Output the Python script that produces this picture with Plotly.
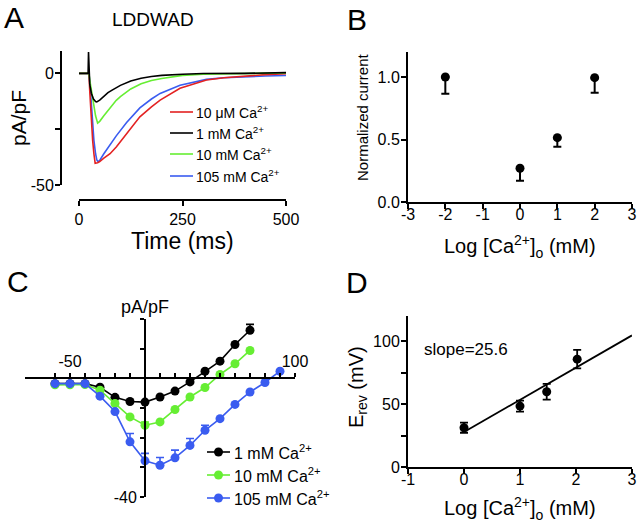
import plotly.graph_objects as go

W, H = 640, 526
FONT = "Arial, Liberation Sans, sans-serif"
RED, BLACK, GREEN, BLUE = "#e32222", "#000000", "#66ee33", "#3a5cf0"

# ---------------- Panel A data (current traces) ----------------
red_t = [0, 24, 26, 28, 30, 33, 36, 39, 45, 50, 60, 75, 90, 115, 147, 175, 196, 244, 308, 350, 400, 450, 500]
red_v = [0, 0, -8, -16, -22, -30, -36, -40.3, -40, -39.5, -38, -36, -33, -27, -19.5, -15, -12, -6.7, -3, -2, -1.2, -0.6, -0.2]
blue_t = [0, 24, 27, 30, 33, 36, 40, 43, 46, 50, 60, 75, 90, 115, 147, 175, 196, 244, 308, 350, 400, 450, 500]
blue_v = [0, 0, -6, -14, -23, -30, -36, -38.8, -39.5, -39, -36, -32, -28, -22, -15.5, -11.5, -9, -5.3, -2.7, -2, -1.5, -1.2, -1.0]
green_t = [0, 24, 26, 30, 35, 40, 45, 50, 60, 70, 80, 90, 100, 125, 150, 175, 200, 250, 300, 350, 400, 450, 500]
green_v = [0, 0, -3, -8, -14, -19, -22.3, -21.5, -19, -16.7, -14.3, -12.1, -10.4, -7, -4.7, -3.2, -2.3, -0.9, -0.4, -0.2, 0, 0.1, 0.2]
black_t = [0, 22, 23, 24, 26, 30, 35, 40, 43, 50, 60, 70, 80, 100, 125, 150, 175, 200, 250, 300, 400, 500]
black_v = [0, 0, 9.5, 2, -5, -9, -11.5, -12.6, -12.8, -12, -10.3, -8.6, -7.5, -5.4, -3.4, -2.2, -1.4, -0.9, -0.4, -0.1, 0, 0.3]
a_legend = ["10 \u03bcM Ca<sup>2+</sup>", "1 mM Ca<sup>2+</sup>", "10 mM Ca<sup>2+</sup>", "105 mM Ca<sup>2+</sup>"]

# ---------------- Panel B data ----------------
b_x = [-2, 0, 1, 2]
b_y = [1.0, 0.27, 0.515, 0.995]
b_err = [0.133, 0.10, 0.072, 0.12]

# ---------------- Panel C data (I-V) ----------------
c_v = [-60, -50, -40, -30, -20, -10, 0, 10, 20, 30, 40, 50, 60, 70]
c_v_blue = [-60, -50, -40, -30, -20, -10, 0, 10, 20, 30, 40, 50, 60, 70, 80, 90]
c_black = [-1.8, -1.8, -1.8, -3.0, -6.4, -7.8, -8.0, -6.3, -4.3, -1.2, 2.4, 5.8, 11.4, 16.2]
c_black_err = [0, 0, 0, 0, 0, 0, 0, 0, 0, 0, 0, 0, 0, 2.0]
c_green = [-2.2, -2.2, -2.1, -4.0, -8.5, -13.0, -15.8, -14.7, -10.5, -6.3, -3.1, 1.3, 4.9, 9.4]
c_green_err = [0, 0, 0, 0, 0, 0, 1.1, 0, 0, 0, 0, 0, 0, 0]
c_blue = [-1.8, -1.8, -1.8, -6.0, -11.2, -21.4, -27.8, -29.3, -26.8, -22.6, -17.5, -13.6, -8.8, -4.6, -1.4, 2.4]
c_blue_err = [0, 0, 0, 0, 0, 2.8, 2.5, 2.6, 2.6, 2.3, 1.7, 0, 0, 0, 0, 0]
c_legend = ["1 mM Ca<sup>2+</sup>", "10 mM Ca<sup>2+</sup>", "105 mM Ca<sup>2+</sup>"]

# ---------------- Panel D data ----------------
d_x = [0, 1, 1.477, 2.021]
d_y = [31.2, 48.4, 59.8, 85.7]
d_err = [4.0, 4.4, 6.3, 7.3]
fit_x = [0, 3]
fit_y = [27.8, 104.6]


def px(x):
    return x / W


def py(y):
    return 1 - y / H


fig = go.Figure()

# Panel A traces
for t, v, c in [(blue_t, blue_v, BLUE), (red_t, red_v, RED), (green_t, green_v, GREEN), (black_t, black_v, BLACK)]:
    fig.add_trace(go.Scatter(x=t, y=v, mode="lines", line=dict(color=c, width=1.6),
                             xaxis="x", yaxis="y", showlegend=False, hoverinfo="skip"))

# Panel B
fig.add_trace(go.Scatter(x=b_x, y=b_y, mode="markers", marker=dict(color="black", size=9),
                         error_y=dict(type="data", symmetric=False, array=[0] * len(b_err), arrayminus=b_err,
                                      width=4, thickness=2, color="black"),
                         xaxis="x2", yaxis="y2", showlegend=False, cliponaxis=False))

# Panel C
for xs, ys, es, c in [(c_v, c_black, c_black_err, BLACK), (c_v, c_green, c_green_err, GREEN),
                      (c_v_blue, c_blue, c_blue_err, BLUE)]:
    fig.add_trace(go.Scatter(x=xs, y=ys, mode="lines+markers", line=dict(color=c, width=1.6),
                             marker=dict(color=c, size=9),
                             error_y=dict(type="data", symmetric=False, array=es, arrayminus=[0] * len(es),
                                          width=4, thickness=1.6, color=c),
                             xaxis="x3", yaxis="y3", showlegend=False, cliponaxis=False))

# Panel D
fig.add_trace(go.Scatter(x=fit_x, y=fit_y, mode="lines", line=dict(color="black", width=1.8),
                         xaxis="x4", yaxis="y4", showlegend=False))
fig.add_trace(go.Scatter(x=d_x, y=d_y, mode="markers", marker=dict(color="black", size=9),
                         error_y=dict(type="data", array=d_err, width=4, thickness=1.8, color="black"),
                         xaxis="x4", yaxis="y4", showlegend=False, cliponaxis=False))

tickfont = dict(family=FONT, size=16, color="black")
common = dict(showgrid=False, zeroline=False, showline=True, linecolor="black", linewidth=2,
              ticks="outside", tickwidth=2, tickcolor="black", ticklen=5, tickfont=tickfont,
              automargin=False)

layout = dict(
    width=W, height=H, margin=dict(l=0, r=0, t=0, b=0, autoexpand=False),
    paper_bgcolor="white", plot_bgcolor="white", showlegend=False,
    font=dict(family=FONT, color="black"),
    # Panel A
    xaxis=dict(common, domain=[px(79), px(286)], range=[0, 500], tickvals=[0, 250, 500],
               anchor="free", position=py(200)),
    yaxis=dict(common, domain=[py(185), py(51)], range=[-50, 10], tickvals=[-50, -25, 0],
               ticktext=["-50", "", "0"], anchor="free", position=px(61), ticklabelstandoff=-2),
    # Panel B
    xaxis2=dict(common, domain=[px(408), px(632)], range=[-3, 3], tickvals=[-3, -2, -1, 0, 1, 2, 3],
                ticktext=["-3", "-2", "-1", "0", "1", "2", "3"], anchor="y2", ticklabelstandoff=-8),
    yaxis2=dict(common, domain=[py(202), py(52)], range=[0, 1.2], tickvals=[0, 0.5, 1.0],
                ticktext=["0.0", "0.5", "1.0"], anchor="x2", ticklabelstandoff=-2),
    # Panel D
    xaxis4=dict(common, domain=[px(408), px(632)], range=[-1, 3], tickvals=[-1, 0, 1, 2, 3],
                ticktext=["-1", "0", "1", "2", "3"], anchor="y4", ticklabelstandoff=-8),
    yaxis4=dict(common, domain=[py(467), py(316)], range=[0, 120], tickvals=[0, 25, 50, 75, 100],
                ticktext=["0", "", "50", "", "100"], anchor="x4", ticklabelstandoff=-2),
)

# Panel C axes crossing at zero
c_xr = [-80, 100]
c_yr = [-40, 20]
c_ydom = [py(497), py(319)]
c_xdom = [px(25), px(295)]
y0_paper = c_ydom[0] + (0 - c_yr[0]) / (c_yr[1] - c_yr[0]) * (c_ydom[1] - c_ydom[0])
x0_paper = c_xdom[0] + (0 - c_xr[0]) / (c_xr[1] - c_xr[0]) * (c_xdom[1] - c_xdom[0])
c_xt = list(range(-60, 101, 10))
c_yt = list(range(-40, 21, 10))
layout["xaxis3"] = dict(common, domain=c_xdom, range=c_xr, side="top", anchor="free", position=y0_paper,
                        tickvals=c_xt, ticktext=["-50" if v == -50 else ("100" if v == 100 else "") for v in c_xt],
                        ticklen=4)
layout["yaxis3"] = dict(common, domain=c_ydom, range=c_yr, anchor="free", position=x0_paper,
                        tickvals=c_yt, ticktext=["-40" if v == -40 else "" for v in c_yt], ticklen=4)

fig.update_layout(**layout)

ann = []


def text(x, y, s, size, angle=0, xanchor="center"):
    ann.append(dict(x=px(x), y=py(y), xref="paper", yref="paper", text=s, showarrow=False,
                    font=dict(family=FONT, size=size, color="black"), textangle=angle,
                    xanchor=xanchor, yanchor="middle", borderpad=0))


# panel letters
text(14, 17, "A", 30)
text(357, 19, "B", 30)
text(18, 281, "C", 30)
text(357, 282, "D", 30)
text(153, 19, "LDDWAD", 19)
# axis titles
text(18, 118, "pA/pF", 21, -90)
text(182, 241, "Time (ms)", 23)
text(363, 117, "Normalized current", 15, -90)
text(520, 247, "Log [Ca<sup>2+</sup>]<sub>o</sub> (mM)", 20)
text(145, 307, "pA/pF", 18)
text(357, 387, "E<sub>rev</sub> (mV)", 20, -90)
text(520, 508, "Log [Ca<sup>2+</sup>]<sub>o</sub> (mM)", 20)
text(423, 349, "slope=25.6", 17, xanchor="left")

shapes = []
# Panel A legend
a_cols = [RED, BLACK, GREEN, BLUE]
a_rows = [112, 133, 154, 176]
for lab, c, yy in zip(a_legend, a_cols, a_rows):
    shapes.append(dict(type="line", xref="paper", yref="paper", x0=px(170), x1=px(193), y0=py(yy), y1=py(yy),
                       line=dict(color=c, width=1.6)))
    text(195, yy, lab, 14, xanchor="left")

# Panel C legend
c_cols = [BLACK, GREEN, BLUE]
c_rows = [452, 475, 498]
for lab, c, yy in zip(c_legend, c_cols, c_rows):
    shapes.append(dict(type="line", xref="paper", yref="paper", x0=px(207), x1=px(230), y0=py(yy), y1=py(yy),
                       line=dict(color=c, width=1.6)))
    shapes.append(dict(type="circle", xref="paper", yref="paper", xsizemode="pixel", ysizemode="pixel",
                       xanchor=px(218.5), yanchor=py(yy), x0=-4.5, x1=4.5, y0=-4.5, y1=4.5,
                       fillcolor=c, line=dict(color=c, width=0)))
    text(233, yy, lab, 16, xanchor="left")

fig.update_layout(annotations=ann, shapes=shapes)
fig.write_html("out.html", config={"displayModeBar": False},
               post_script="document.body.style.margin='0';document.body.style.overflow='hidden';")
